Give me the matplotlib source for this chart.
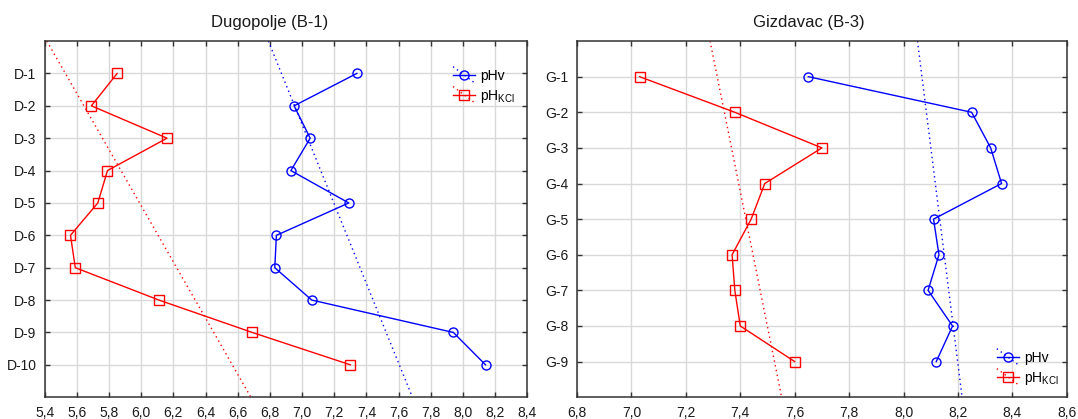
import numpy as np
import matplotlib
matplotlib.use("Agg")
import matplotlib.pyplot as plt
from matplotlib.lines import Line2D
from matplotlib.legend_handler import HandlerBase
from matplotlib.ticker import FuncFormatter, MultipleLocator

plt.rcParams['font.family'] = ['Liberation Sans', 'DejaVu Sans']
plt.rcParams['mathtext.fontset'] = 'custom'
plt.rcParams['mathtext.rm'] = 'Liberation Sans'
plt.rcParams['mathtext.it'] = 'Liberation Sans:italic'

# ---- data -------------------------------------------------------------
dugopolje_samples = ["D-1", "D-2", "D-3", "D-4", "D-5", "D-6", "D-7", "D-8", "D-9", "D-10"]
dugopolje_ph_v = [7.34, 6.95, 7.05, 6.93, 7.29, 6.84, 6.83, 7.06, 7.94, 8.14]
dugopolje_ph_kcl = [5.85, 5.69, 6.16, 5.79, 5.73, 5.56, 5.59, 6.11, 6.69, 7.30]

gizdavac_samples = ["G-1", "G-2", "G-3", "G-4", "G-5", "G-6", "G-7", "G-8", "G-9"]
gizdavac_ph_v = [7.65, 8.25, 8.32, 8.36, 8.11, 8.13, 8.09, 8.18, 8.12]
gizdavac_ph_kcl = [7.03, 7.38, 7.70, 7.49, 7.44, 7.37, 7.38, 7.40, 7.60]

# linear trends: (pH at row 0, change of pH per sample row)
dugopolje_fit_v = (6.79, 0.0814)
dugopolje_fit_kcl = (5.413, 0.1153)
gizdavac_fit_v = (8.051, 0.0164)
gizdavac_fit_kcl = (7.289, 0.0263)

dugopolje_xrange = (5.4, 8.4)
gizdavac_xrange = (6.8, 8.6)

BLUE = "#0000FF"
RED = "#FF0000"


class HandlerFit(HandlerBase):
    """Legend key: solid line with marker plus a dotted diagonal trend."""

    def create_artists(self, legend, orig_handle, xdescent, ydescent,
                       width, height, fontsize, trans):
        c = orig_handle.get_color()
        x0, x1 = -xdescent, width - xdescent
        ym = height / 2 - ydescent
        diag = Line2D([x0, x1], [ym + 6, ym - 6], ls=(0, (1, 2.5)), lw=1.0, color=c)
        solid = Line2D([x0, x1], [ym, ym], lw=1.0, color=c)
        mk = Line2D([(x0 + x1) / 2], [ym], ls='none', marker=orig_handle.get_marker(),
                    ms=orig_handle.get_markersize(), mfc='none', mec=c, mew=1.0)
        for a in (diag, solid, mk):
            a.set_transform(trans)
        return [diag, solid, mk]


def comma(v, pos):
    return f"{v:.1f}".replace(".", ",")


def panel(ax, samples, ph_v, ph_kcl, fit_v, fit_kcl, xrange, legend_anchor):
    n = len(samples)
    rows = np.arange(1, n + 1)
    ax.set_xlim(*xrange)
    ax.set_ylim(n + 1, 0)

    ylim = np.array([0.0, n + 1.0])
    ax.plot(fit_v[0] + fit_v[1] * ylim, ylim, ls=(0, (1, 2.5)), lw=1.0, color=BLUE, zorder=2)
    ax.plot(fit_kcl[0] + fit_kcl[1] * ylim, ylim, ls=(0, (1, 2.5)), lw=1.0, color=RED, zorder=2)

    lv, = ax.plot(ph_v, rows, color=BLUE, lw=1.0, marker='o', ms=6.5,
                  mfc='none', mec=BLUE, mew=1.0, zorder=3)
    lk, = ax.plot(ph_kcl, rows, color=RED, lw=1.0, marker='s', ms=6.5,
                  mfc='none', mec=RED, mew=1.0, zorder=3)

    ax.set_yticks(rows)
    ax.set_yticklabels(samples)
    ax.xaxis.set_major_locator(MultipleLocator(0.2))
    ax.xaxis.set_major_formatter(FuncFormatter(comma))
    ax.grid(True, color="#d9d9d9", lw=1.0, zorder=0)
    ax.set_axisbelow(True)
    ax.tick_params(direction='in', length=3.5, width=1.0, color="#333333",
                   top=True, right=True, labelsize=10, labelcolor="#1a1a1a", pad=6)
    for s in ax.spines.values():
        s.set_color("#333333")
        s.set_linewidth(1.1)

    ax.legend([lv, lk], ["pHv", r"pH$_{\mathrm{KCl}}$"],
              handler_map={Line2D: HandlerFit()},
              loc='upper left', bbox_to_anchor=legend_anchor, frameon=False,
              fontsize=10, handlelength=1.6, handletextpad=0.35,
              borderpad=0, borderaxespad=0, labelspacing=0.35)


fig = plt.figure(figsize=(10.78, 4.19), dpi=100)
ax1 = fig.add_axes([0.0415, 0.052, 0.4477, 0.850])
ax2 = fig.add_axes([0.5352, 0.052, 0.4545, 0.850])

panel(ax1, dugopolje_samples, dugopolje_ph_v, dugopolje_ph_kcl,
      dugopolje_fit_v, dugopolje_fit_kcl, dugopolje_xrange, (0.846, 0.922))
panel(ax2, gizdavac_samples, gizdavac_ph_v, gizdavac_ph_kcl,
      gizdavac_fit_v, gizdavac_fit_kcl, gizdavac_xrange, (0.857, 0.13))

# panel titles are centred over each half of the figure
fig.text(0.2505, 0.947, "Dugopolje (B-1)", ha='center', va='center', fontsize=12, color="#1a1a1a")
fig.text(0.7505, 0.947, "Gizdavac (B-3)", ha='center', va='center', fontsize=12, color="#1a1a1a")

fig.savefig("out.png", dpi=100)
